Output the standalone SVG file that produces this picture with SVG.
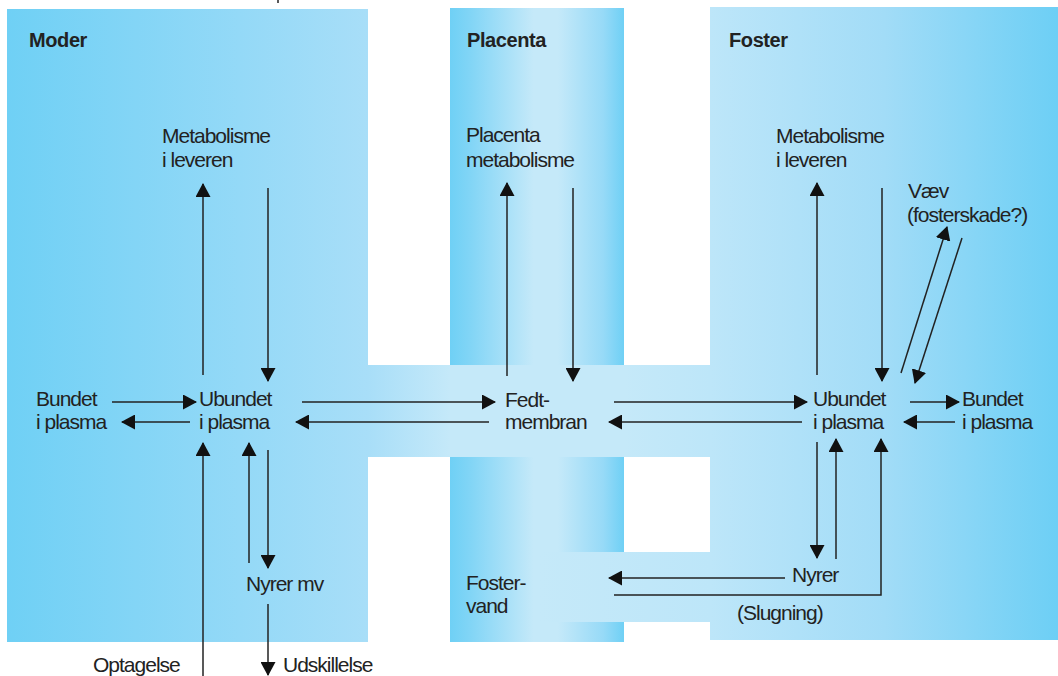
<svg xmlns="http://www.w3.org/2000/svg" width="1058" height="676" viewBox="0 0 1058 676">
  <defs>
    <linearGradient id="gMother" x1="0" y1="0" x2="1" y2="0">
      <stop offset="0" stop-color="#6fd0f5"/>
      <stop offset="1" stop-color="#a8def8"/>
    </linearGradient>
    <linearGradient id="gPlacenta" x1="0" y1="0" x2="1" y2="0">
      <stop offset="0" stop-color="#6fd0f5"/>
      <stop offset="0.12" stop-color="#82d5f6"/>
      <stop offset="0.48" stop-color="#c5e9f9"/>
      <stop offset="0.62" stop-color="#c5e9f9"/>
      <stop offset="0.88" stop-color="#97daf7"/>
      <stop offset="1" stop-color="#6fd0f5"/>
    </linearGradient>
    <linearGradient id="gFetus" x1="0" y1="0" x2="1" y2="0">
      <stop offset="0" stop-color="#bde6f9"/>
      <stop offset="0.5" stop-color="#a2dcf7"/>
      <stop offset="1" stop-color="#6dcff5"/>
    </linearGradient>
    <linearGradient id="gBand" x1="0" y1="0" x2="1" y2="0">
      <stop offset="0" stop-color="#a8def8"/>
      <stop offset="0.24" stop-color="#c5e9f9"/>
      <stop offset="0.75" stop-color="#c5e9f9"/>
      <stop offset="1" stop-color="#bde6f9"/>
    </linearGradient>
    <linearGradient id="gLowBand" x1="0" y1="0" x2="1" y2="0">
      <stop offset="0" stop-color="#c5e9f9"/>
      <stop offset="1" stop-color="#bde6f9"/>
    </linearGradient>
    <marker id="head" markerUnits="userSpaceOnUse" markerWidth="14" markerHeight="15" viewBox="0 0 14 15" refX="13" refY="7.5" orient="auto">
      <path d="M0,0 L14,7.5 L0,15 Z" fill="#111"/>
    </marker>
    <style>
      text { font-family: "Liberation Sans", Arial, sans-serif; fill: #222; }
      .lbl { font-size: 21px; letter-spacing: -1px; }
      .hd { font-size: 20px; font-weight: bold; letter-spacing: -0.4px; }
      .ln { stroke: #222; stroke-width: 1.5; fill: none; }
      .ar { stroke: #222; stroke-width: 1.5; fill: none; marker-end: url(#head); }
    </style>
  </defs>

  <!-- compartments -->
  <g id="compartments">
    <rect x="7" y="9" width="361" height="633" fill="url(#gMother)"/>
    <rect x="450" y="8" width="174" height="634" fill="url(#gPlacenta)"/>
    <rect x="710" y="7" width="348" height="633" fill="url(#gFetus)"/>
    <rect x="368" y="365" width="342" height="92" fill="url(#gBand)"/>
    <rect x="540" y="552" width="170" height="70" fill="url(#gLowBand)"/>
  </g>

  <!-- section headings -->
  <g id="headings">
    <text class="hd" x="29" y="47">Moder</text>
    <text class="hd" x="467" y="47">Placenta</text>
    <text class="hd" x="729" y="47">Foster</text>
  </g>

  <!-- mother -->
  <g id="mother-liver"><text class="lbl" x="162" y="143">Metabolisme</text><text class="lbl" x="162" y="167">i leveren</text></g>
  <g id="mother-bound"><text class="lbl" x="36" y="406">Bundet</text><text class="lbl" x="36" y="429">i plasma</text></g>
  <g id="mother-free"><text class="lbl" x="199" y="406">Ubundet</text><text class="lbl" x="199" y="429">i plasma</text></g>
  <g id="mother-kidney"><text class="lbl" x="246" y="591">Nyrer mv</text></g>
  <g id="intake"><text class="lbl" x="93" y="672">Optagelse</text></g>
  <g id="excretion"><text class="lbl" x="283" y="672">Udskillelse</text></g>

  <!-- placenta -->
  <g id="placenta-metabolism"><text class="lbl" x="466" y="142">Placenta</text><text class="lbl" x="466" y="167">metabolisme</text></g>
  <g id="membrane"><text class="lbl" x="505" y="407">Fedt-</text><text class="lbl" x="505" y="429">membran</text></g>
  <g id="amniotic-fluid"><text class="lbl" x="466" y="590">Foster-</text><text class="lbl" x="466" y="613">vand</text></g>

  <!-- fetus -->
  <g id="fetus-liver"><text class="lbl" x="776" y="143">Metabolisme</text><text class="lbl" x="776" y="167">i leveren</text></g>
  <g id="tissue"><text class="lbl" x="908" y="198">Væv</text><text class="lbl" x="907" y="222">(fosterskade?)</text></g>
  <g id="fetus-free"><text class="lbl" x="813" y="406">Ubundet</text><text class="lbl" x="813" y="429">i plasma</text></g>
  <g id="fetus-bound"><text class="lbl" x="962" y="406">Bundet</text><text class="lbl" x="962" y="429">i plasma</text></g>
  <g id="fetus-kidney"><text class="lbl" x="792" y="582">Nyrer</text></g>
  <g id="swallowing"><text class="lbl" x="737" y="620">(Slugning)</text></g>

  <!-- connectors -->
  <g id="connectors">
    <line class="ln" x1="278" y1="0" x2="278" y2="3"/>

    <!-- mother -->
    <line class="ar" x1="203" y1="375" x2="203" y2="184"/>
    <line class="ar" x1="268" y1="188" x2="268" y2="381"/>
    <line class="ar" x1="112" y1="402" x2="196" y2="402"/>
    <line class="ar" x1="190" y1="422" x2="122" y2="422"/>
    <line class="ar" x1="302" y1="402" x2="495" y2="402"/>
    <line class="ar" x1="489" y1="422" x2="296" y2="422"/>
    <line class="ar" x1="203" y1="676" x2="203" y2="443"/>
    <line class="ar" x1="249" y1="563" x2="249" y2="443"/>
    <line class="ar" x1="268" y1="450" x2="268" y2="568"/>
    <line class="ar" x1="268" y1="604" x2="268" y2="675"/>

    <!-- placenta -->
    <line class="ar" x1="507" y1="376" x2="507" y2="183"/>
    <line class="ar" x1="573" y1="188" x2="573" y2="381"/>
    <line class="ar" x1="614" y1="402" x2="807" y2="402"/>
    <line class="ar" x1="802" y1="422" x2="609" y2="422"/>

    <!-- fetus -->
    <line class="ar" x1="817" y1="375" x2="817" y2="183"/>
    <line class="ar" x1="882" y1="188" x2="882" y2="381"/>
    <line class="ar" x1="901" y1="373" x2="947" y2="227"/>
    <line class="ar" x1="962" y1="238" x2="915" y2="383"/>
    <line class="ar" x1="910" y1="402" x2="959" y2="402"/>
    <line class="ar" x1="955" y1="422" x2="904" y2="422"/>
    <line class="ar" x1="817" y1="442" x2="817" y2="558"/>
    <line class="ar" x1="836" y1="559" x2="836" y2="439"/>
    <line class="ar" x1="785" y1="578" x2="609" y2="578"/>
    <polyline class="ar" points="614,595 881,595 881,439"/>
  </g>
</svg>
